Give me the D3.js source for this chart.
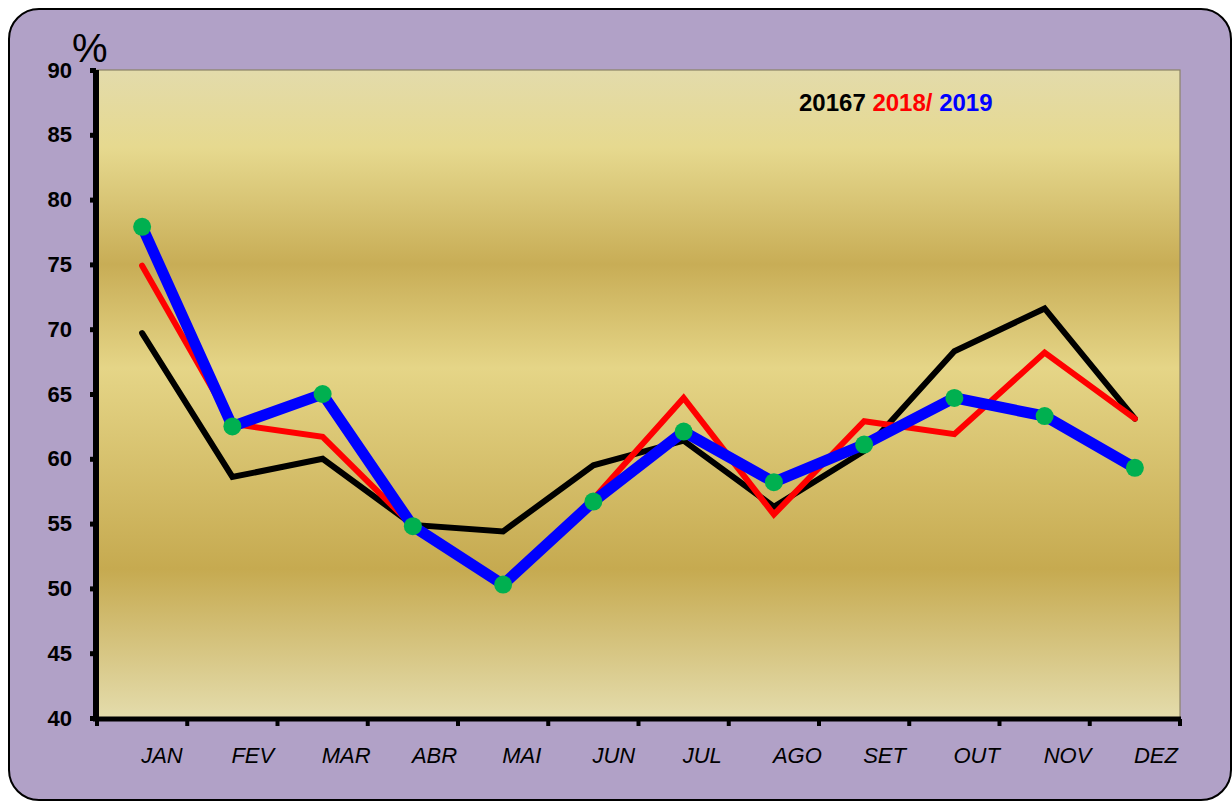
<!DOCTYPE html>
<html>
<head>
<meta charset="utf-8">
<script src="https://cdn.jsdelivr.net/npm/d3@7"></script>
<style>
  html, body { margin: 0; padding: 0; background: #ffffff; }
  svg { display: block; font-family: "Liberation Sans", Arial, sans-serif; }
</style>
</head>
<body>
<svg id="chart" width="1232" height="802"></svg>
<script>
const months = ["JAN","FEV","MAR","ABR","MAI","JUN","JUL","AGO","SET","OUT","NOV","DEZ"];
const s2017 = [69.7, 58.6, 60.0, 54.9, 54.4, 59.5, 61.4, 56.3, 60.6, 68.3, 71.6, 63.1];
const s2018 = [74.9, 62.7, 61.7, 54.8, 50.1, 56.9, 64.7, 55.7, 62.9, 61.9, 68.2, 63.1];
const s2019 = [77.9, 62.5, 65.0, 54.8, 50.3, 56.7, 62.1, 58.2, 61.1, 64.7, 63.3, 59.3];
const yTicks = [40, 45, 50, 55, 60, 65, 70, 75, 80, 85, 90];
const yUnit = "%";
const legendParts = [
  {text: "20167 ", color: "#000000"},
  {text: "2018/ ", color: "#ff0000"},
  {text: "2019", color: "#0000ff"}
];

(function () {
const svg = d3.select("#chart");
const pL = 97, pR = 1180, pT = 70, pB = 718;

// outer panel
svg.append("rect")
  .attr("x", 9).attr("y", 9).attr("width", 1222).attr("height", 791)
  .attr("rx", 30).attr("ry", 30)
  .attr("fill", "#b1a1c7").attr("stroke", "#000").attr("stroke-width", 2);

// gradient
const defs = svg.append("defs");
const grad = defs.append("linearGradient").attr("id", "gold")
  .attr("x1", 0).attr("y1", 0).attr("x2", 0).attr("y2", 1);
[["0%", "#e3dbab"], ["12%", "#e6d98f"], ["30%", "#c8ad56"], ["46%", "#e5d587"],
 ["77%", "#c6aa50"], ["100%", "#e4dcac"]].forEach(([o, c]) =>
  grad.append("stop").attr("offset", o).attr("stop-color", c));

const x = d3.scaleBand().domain(months).range([pL, pR]).paddingInner(0).paddingOuter(0);
const y = d3.scaleLinear().domain([40, 90]).range([pB, pT]);
const cx = m => x(m) + x.bandwidth() / 2;

svg.append("rect")
  .attr("x", pL).attr("y", pT).attr("width", pR - pL).attr("height", pB - pT)
  .attr("fill", "url(#gold)").attr("stroke", "#8a8266").attr("stroke-width", 1.2);

// lines
const line = d3.line().x((d, i) => cx(months[i])).y(d => y(d));
function drawLine(data, color, w) {
  svg.append("path").datum(data)
    .attr("d", line).attr("fill", "none")
    .attr("stroke", color).attr("stroke-width", w)
    .attr("stroke-linejoin", "miter").attr("stroke-linecap", "round");
}
drawLine(s2017, "#000000", 6);
drawLine(s2018, "#ff0000", 6);
drawLine(s2019, "#0000ff", 11);

svg.append("g").selectAll("circle").data(s2019).join("circle")
  .attr("cx", (d, i) => cx(months[i])).attr("cy", d => y(d))
  .attr("r", 9).attr("fill", "#00b050");

// y axis
const yAxis = svg.append("g").attr("transform", `translate(${pL - 1},0)`)
  .call(d3.axisLeft(y).tickValues(yTicks).tickSize(6).tickSizeOuter(0).tickPadding(18));
yAxis.select(".domain").attr("stroke", "#000").attr("stroke-width", 6)
  .attr("d", `M0,${pT}V${pB + 3}`);
yAxis.selectAll(".tick line").attr("stroke", "#000").attr("stroke-width", 5);
yAxis.selectAll(".tick text")
  .attr("font-size", 22).attr("font-weight", "bold").attr("fill", "#000")
  .attr("font-family", "'Liberation Sans', Arial, sans-serif");

// x axis
const xTickPos = months.map(m => x(m)).concat([pR]);
svg.append("line").attr("x1", pL - 4).attr("x2", pR + 1)
  .attr("y1", pB + 1).attr("y2", pB + 1)
  .attr("stroke", "#000").attr("stroke-width", 5);
svg.append("g").selectAll("line").data(xTickPos).join("line")
  .attr("x1", d => d).attr("x2", d => d)
  .attr("y1", pB + 1).attr("y2", pB + 8)
  .attr("stroke", "#000").attr("stroke-width", 4);
svg.append("g").selectAll("text").data(months).join("text")
  .attr("x", d => cx(d) - 1).attr("y", 763)
  .attr("font-size", 22).attr("font-style", "italic").attr("fill", "#000")
  .text(d => d);

// unit label
svg.append("text").attr("x", 72).attr("y", 62)
  .attr("font-size", 40).attr("fill", "#000").text(yUnit);

// legend
const lg = svg.append("text").attr("x", 799).attr("y", 111)
  .attr("font-size", 24).attr("font-weight", "bold");
legendParts.forEach(p => lg.append("tspan").attr("fill", p.color).text(p.text));
})();
</script>
</body>
</html>
